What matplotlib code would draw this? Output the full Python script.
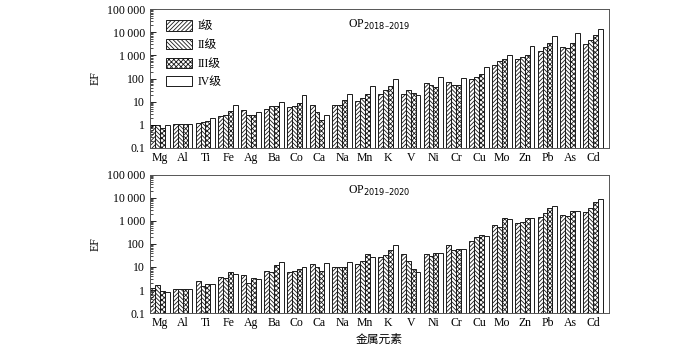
import numpy as np
import matplotlib.pyplot as plt
from matplotlib.ticker import FixedLocator, LogLocator, NullFormatter

plt.rcParams['font.family'] = ['Liberation Serif', 'Noto Sans CJK SC']
plt.rcParams['hatch.linewidth'] = 0.6

elementos = ['Mg', 'Al', 'Ti', 'Fe', 'Ag', 'Ba', 'Co', 'Ca', 'Na', 'Mn',
             'K', 'V', 'Ni', 'Cr', 'Cu', 'Mo', 'Zn', 'Pb', 'As', 'Cd']
niveis = ['I级', 'II级', 'III级', 'IV级']
hachuras = ['////////', '\\\\\\\\\\\\\\\\', 'xxxxxxx', '']

# OP 2018-2019 (niveis I..IV)
op1_I = [0.9, 0.95, 1.1, 2.4, 4.2, 4.5, 5.8, 7.0, 7.0, 11, 21, 21, 67, 74, 93, 390, 690, 1490, 2300, 3200]
op1_II = [0.85, 0.95, 1.2, 2.6, 2.6, 6.2, 6.4, 3.4, 7.0, 15, 32, 32, 53, 55, 115, 550, 850, 2220, 2150, 4500]
op1_III = [0.62, 0.95, 1.3, 3.8, 2.6, 6.2, 8.5, 1.5, 11.8, 22, 49, 23, 45, 55, 155, 690, 1070, 3440, 3560, 7700]
op1_IV = [0.85, 0.95, 1.9, 7.0, 3.6, 9.5, 20, 2.5, 21, 46, 93, 20, 122, 105, 310, 1000, 2460, 6600, 9000, 14000]

# OP 2019-2020
op2_I = [1.1, 1.0, 2.4, 3.5, 4.5, 6.5, 5.9, 13, 10, 13, 28, 35, 35, 87, 140, 670, 790, 1540, 1800, 2400]
op2_II = [1.6, 1.0, 1.45, 3.3, 1.95, 5.7, 6.7, 10.3, 9.7, 18, 32, 18, 31, 55, 200, 530, 930, 2150, 1700, 3780]
op2_III = [0.8, 1.0, 1.65, 5.7, 3.3, 11.8, 8.4, 6.7, 10, 35, 53, 8.2, 42, 60, 240, 1300, 1300, 3780, 2700, 6400]
op2_IV = [0.72, 1.0, 1.75, 4.8, 2.9, 17, 10, 14.5, 16, 26, 90, 5.7, 42, 60, 215, 1190, 1400, 4450, 2800, 9300]

paineis = [
    ('OP$_{2018\u20132019}$', [op1_I, op1_II, op1_III, op1_IV]),
    ('OP$_{2019\u20132020}$', [op2_I, op2_II, op2_III, op2_IV]),
]

fig = plt.figure(figsize=(7, 3.49), dpi=100)
ax1 = fig.add_axes([0.214, 0.576, 0.656, 0.398])
ax2 = fig.add_axes([0.214, 0.103, 0.656, 0.396])

x = np.arange(len(elementos))
largura = 0.215
ticks_y = [0.1, 1, 10, 100, 1000, 10000, 100000]
rotulos_y = ['0.1', '1', '10', '100', '1\u2009000', '10\u2009000', '100\u2009000']

for ax, (titulo, series) in zip([ax1, ax2], paineis):
    for i, serie in enumerate(series):
        ax.bar(x + (i - 1.5) * largura, serie, width=largura, bottom=0.1,
               color='white', edgecolor='#1a1a1a', linewidth=0.7,
               hatch=hachuras[i], label=niveis[i])
    ax.set_yscale('log')
    ax.set_ylim(0.1, 100000)
    ax.set_xlim(-0.44, 19.7)
    ax.yaxis.set_major_locator(FixedLocator(ticks_y))
    ax.set_yticklabels(rotulos_y, fontsize=8.5)
    ax.yaxis.set_minor_locator(LogLocator(base=10, subs=np.arange(2, 10), numticks=20))
    ax.yaxis.set_minor_formatter(NullFormatter())
    ax.tick_params(axis='y', which='major', direction='in', length=4, width=0.6)
    ax.tick_params(axis='y', which='minor', direction='in', length=2, width=0.5)
    ax.set_xticks(x)
    ax.set_xticklabels(elementos, fontsize=8.5)
    ax.tick_params(axis='x', length=0, pad=3)
    for s in ax.spines.values():
        s.set_linewidth(0.7)
        s.set_color('#555555')
    ax.set_ylabel('EF', fontsize=8.5, labelpad=4)
    ax.text(0.5, 0.885, titulo, transform=ax.transAxes, ha='center',
            va='center', fontsize=8.5)

ax1.legend(loc='upper left', bbox_to_anchor=(0.02, 0.97), frameon=False,
           fontsize=8.5, handlelength=2.2, handleheight=0.95,
           labelspacing=0.55, handletextpad=0.5, borderaxespad=0.2)
ax2.set_xlabel('金属元素', fontsize=8.5, labelpad=3)

fig.savefig('out.png', dpi=100, facecolor='white')
